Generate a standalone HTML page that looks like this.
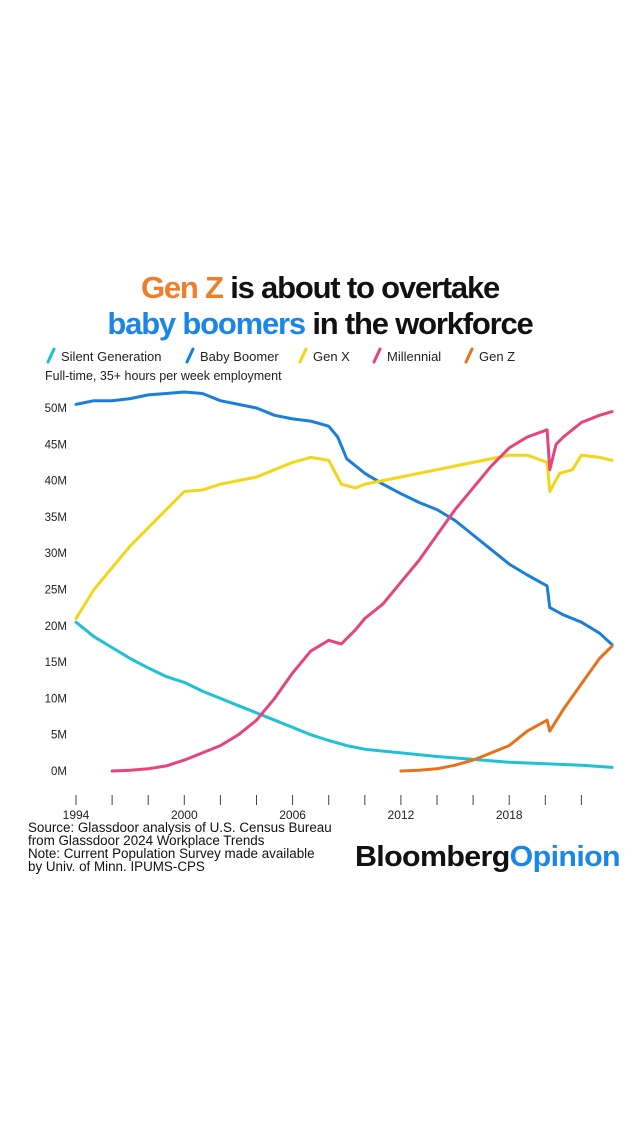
<!DOCTYPE html>
<html><head><meta charset="utf-8"><style>
html,body{margin:0;padding:0;background:#fff;}
svg{display:block;font-family:"Liberation Sans",sans-serif;}
</style></head><body>
<svg id="chart" width="640" height="1138" viewBox="0 0 640 1138" xmlns="http://www.w3.org/2000/svg">
<text x="320" y="298" text-anchor="middle" font-size="31" font-weight="bold" letter-spacing="-1.2"><tspan fill="#f07d2a">Gen Z</tspan><tspan fill="#111"> is about to overtake</tspan></text>
<text x="320" y="334" text-anchor="middle" font-size="31" font-weight="bold" letter-spacing="-1.2"><tspan fill="#1a86e8">baby boomers</tspan><tspan fill="#111"> in the workforce</tspan></text>
<g id="legend" font-size="13" fill="#222"></g>
<text x="45" y="380" font-size="12.5" fill="#222">Full-time, 35+ hours per week employment</text>
<g id="yaxis" font-size="11.5" fill="#222"></g>
<g id="xaxis" font-size="12" fill="#222"></g>
<g id="series"></g>
<g font-size="13.4" fill="#111">
<text x="28" y="832">Source: Glassdoor analysis of U.S. Census Bureau</text>
<text x="28" y="845">from Glassdoor 2024 Workplace Trends</text>
<text x="28" y="858">Note: Current Population Survey made available</text>
<text x="28" y="871">by Univ. of Minn. IPUMS-CPS</text>
</g>
<text x="620" y="866" text-anchor="end" font-size="29" font-weight="bold" letter-spacing="-0.6" textLength="265" lengthAdjust="spacingAndGlyphs"><tspan fill="#111">Bloomberg</tspan><tspan fill="#1a86e8">Opinion</tspan></text>
</svg>
<script>
const seriesNames = ["Silent Generation","Baby Boomer","Gen X","Millennial","Gen Z"];
const seriesColors = ["#1fc1d4","#1a7fdc","#f2d617","#e5457a","#e8721c"];
const silentYears = [1994,1995,1996,1997,1998,1999,2000,2001,2002,2003,2004,2005,2006,2007,2008,2009,2010,2012,2014,2016,2018,2020,2022,2023.7];
const silentValues = [20.5,18.5,17,15.5,14.2,13,12.2,11,10,9,8,7,6,5,4.2,3.5,3,2.5,2,1.6,1.2,1,0.8,0.5];
const boomerYears = [1994,1995,1996,1997,1998,1999,2000,2001,2002,2003,2004,2005,2006,2007,2008,2008.5,2009,2010,2011,2012,2013,2014,2015,2016,2017,2018,2019,2020.1,2020.25,2021,2022,2023,2023.7];
const boomerValues = [50.5,51,51,51.3,51.8,52,52.2,52,51,50.5,50,49,48.5,48.2,47.5,46,43,41,39.5,38.2,37,36,34.5,32.5,30.5,28.5,27,25.5,22.5,21.5,20.5,19,17.4];
const genxYears = [1994,1995,1996,1997,1998,1999,2000,2001,2002,2003,2004,2005,2006,2007,2008,2008.7,2009.5,2010,2011,2012,2014,2016,2018,2019,2020.1,2020.25,2020.8,2021.5,2022,2023,2023.7];
const genxValues = [21,25,28,31,33.5,36,38.5,38.7,39.5,40,40.5,41.5,42.5,43.2,42.8,39.5,39,39.5,40,40.5,41.5,42.5,43.5,43.5,42.5,38.5,41,41.5,43.5,43.2,42.8];
const millYears = [1996,1997,1998,1999,2000,2001,2002,2003,2004,2005,2006,2007,2008,2008.7,2009.5,2010,2011,2012,2013,2014,2015,2016,2017,2018,2019,2020.1,2020.25,2020.6,2021,2022,2023,2023.7];
const millValues = [0,0.1,0.3,0.7,1.5,2.5,3.5,5,7,10,13.5,16.5,18,17.5,19.5,21,23,26,29,32.5,36,39,42,44.5,46,47,41.5,45,46,48,49,49.5];
const genzYears = [2012,2013,2014,2015,2016,2017,2018,2019,2020.1,2020.25,2021,2022,2023,2023.7];
const genzValues = [0,0.1,0.3,0.8,1.5,2.5,3.5,5.5,7,5.5,8.5,12,15.5,17.2];
const yTicks = [0,5,10,15,20,25,30,35,40,45,50];
const yTickLabels = ["0M","5M","10M","15M","20M","25M","30M","35M","40M","45M","50M"];
const xTicks = [1994,1996,1998,2000,2002,2004,2006,2008,2010,2012,2014,2016,2018,2020,2022];
const xTickLabels = ["1994","","","2000","","","2006","","","2012","","","2018","",""];

const NS="http://www.w3.org/2000/svg";
const xs = yr => 76 + (yr-1994)*18.05;
const ys = v => 771 - v*7.26;
function mk(tag, attrs, parent){const e=document.createElementNS(NS,tag);for(const k in attrs)e.setAttribute(k,attrs[k]);parent.appendChild(e);return e;}

const yg=document.getElementById('yaxis');
yTicks.forEach((t,i)=>{const e=mk('text',{x:67,y:ys(t)+4,'text-anchor':'end'},yg);e.textContent=yTickLabels[i];

});
const xg=document.getElementById('xaxis');
xTicks.forEach((t,i)=>{const l=mk('line',{x1:xs(t),x2:xs(t),y1:795,y2:805,stroke:'#444','stroke-width':1},xg);


if(xTickLabels[i]){const e=mk('text',{x:xs(t),y:819,'text-anchor':'middle'},xg);e.textContent=xTickLabels[i];

}});

const lg=document.getElementById('legend');
const legendX=[48,187,300,374,466];
seriesNames.forEach((n,i)=>{const x=legendX[i];
const s=mk('line',{x1:x,y1:362,x2:x+6,y2:349,stroke:seriesColors[i],'stroke-width':3,'stroke-linecap':'round'},lg);


const t=mk('text',{x:x+13,y:361},lg);t.textContent=n;

});

const sg=document.getElementById('series');
const all=[[silentYears,silentValues],[boomerYears,boomerValues],[genxYears,genxValues],[millYears,millValues],[genzYears,genzValues]];
const names=['line-silent-generation','line-baby-boomer','line-gen-x','line-millennial','line-gen-z'];
[0,1,2,3,4].forEach(i=>{const [yrs,vals]=all[i];
const d=yrs.map((y,k)=>(k?'L':'M')+xs(y).toFixed(1)+' '+ys(vals[k]).toFixed(1)).join(' ');
const p=mk('path',{d:d,fill:'none',stroke:seriesColors[i],'stroke-width':3,'stroke-linejoin':'round','stroke-linecap':'round'},sg);

});
</script>
</body></html>
